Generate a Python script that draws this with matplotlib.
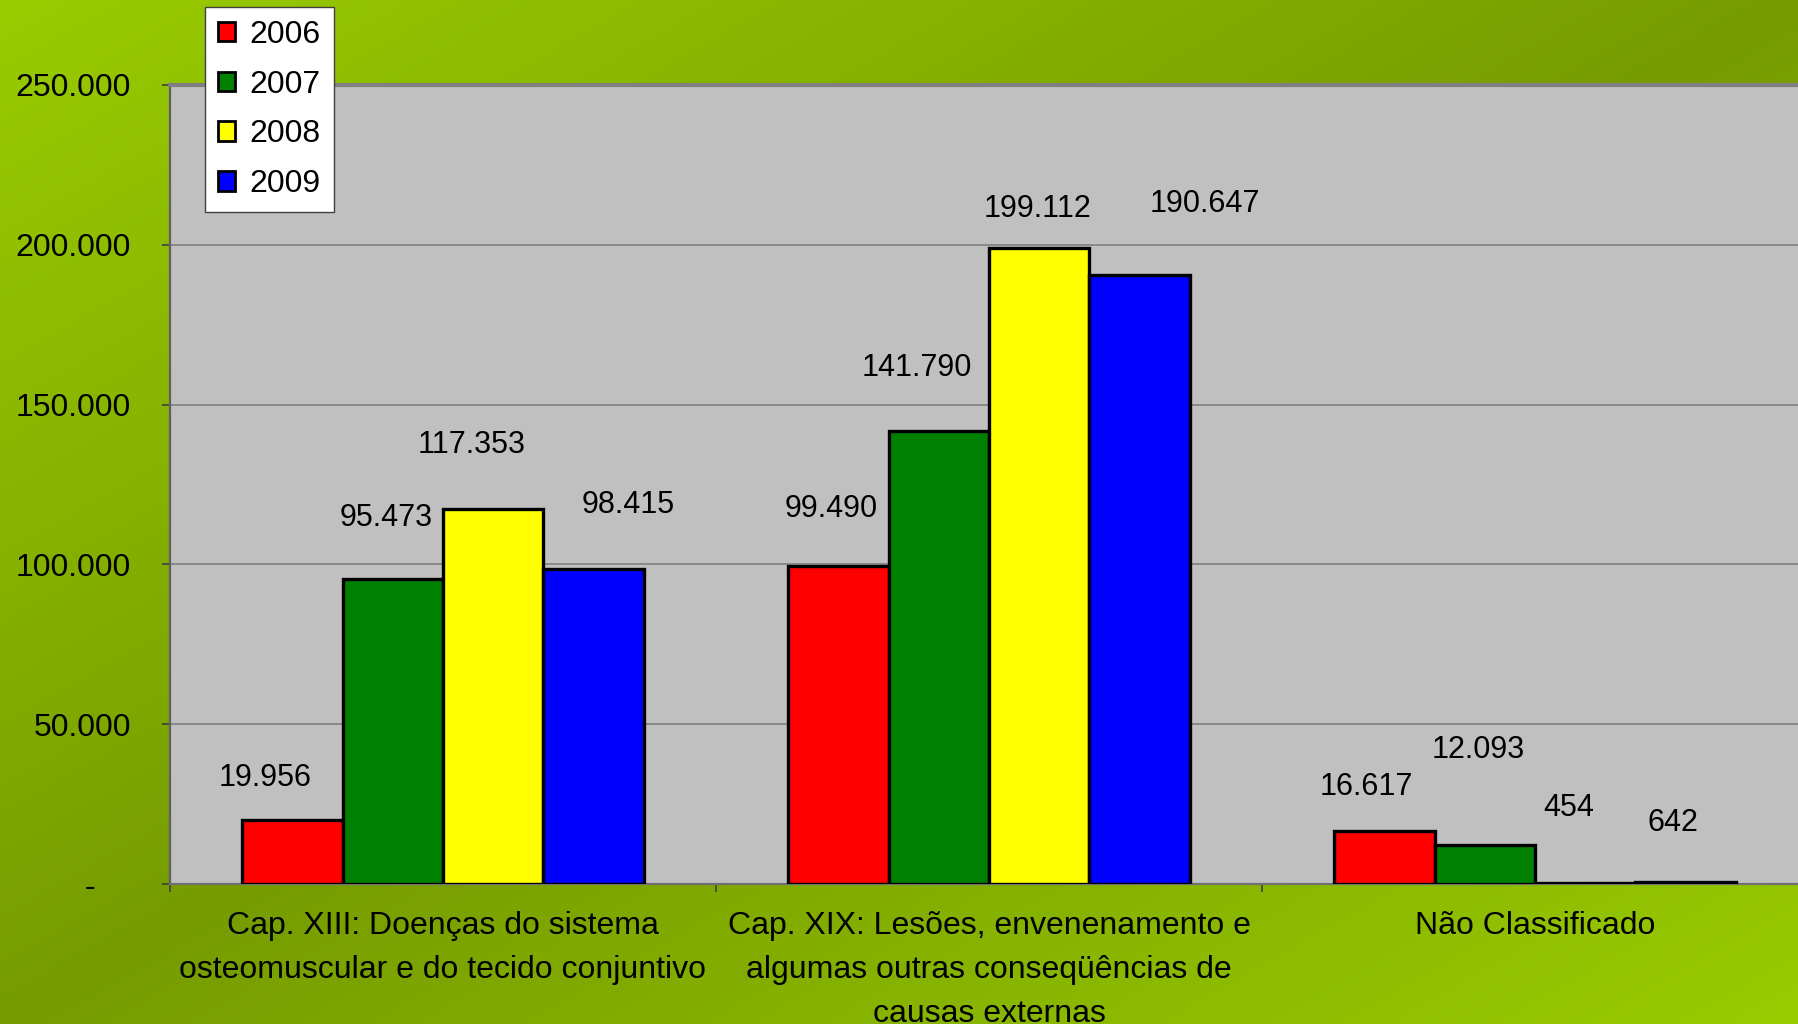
import numpy as np
import matplotlib
matplotlib.use("Agg")
import matplotlib.pyplot as plt
from matplotlib.patches import Patch

# ---------------- data ----------------
categories = [
    "Cap. XIII: Doenças do sistema\nosteomuscular e do tecido conjuntivo",
    "Cap. XIX: Lesões, envenenamento e\nalgumas outras conseqüências de\ncausas externas",
    "Não Classificado",
]
years = ["2006", "2007", "2008", "2009"]
v2006 = [19956, 99490, 16617]
v2007 = [95473, 141790, 12093]
v2008 = [117353, 199112, 454]
v2009 = [98415, 190647, 642]
yticks = [0, 50000, 100000, 150000, 200000, 250000]
ytick_labels = ["-    ", "50.000", "100.000", "150.000", "200.000", "250.000"]

# ---------------- style ----------------
colors = ["#FF0000", "#008000", "#FFFF00", "#0000FF"]
# label nudges (pixels) relative to bar top, per series / category
label_dx = [[-27, -7, -18], [-7, -22, -7], [-22, -2, -17], [34, 65, -13]]
label_dy = [[42, 57, 44], [61, 63, 95], [64, 39, 75], [64, 71, 59]]

plt.rcParams["font.family"] = ["Liberation Sans", "DejaVu Sans"]
FS = 23

W_PX, H_PX = 1799, 1024
fig = plt.figure(figsize=(W_PX / 100, H_PX / 100), dpi=100)

# gradient background
bg = fig.add_axes([0, 0, 1, 1], zorder=-10)
H, W = 256, 450
yy, xx = np.mgrid[0:H, 0:W]
t = (xx / (W - 1) + yy / (H - 1)) / 2
f = np.abs(2 * t - 1)
bright = np.array([0x99, 0xCC, 0x00]) / 255
dark = np.array([0x76, 0x9C, 0x00]) / 255
img = dark + (bright - dark) * f[..., None]
bg.imshow(img, aspect="auto", extent=[0, 1, 0, 1], origin="upper")
bg.axis("off")

left, right, top, bottom = 170, 1808, 85, 884
ax = fig.add_axes([left / W_PX, 1 - bottom / H_PX, (right - left) / W_PX, (bottom - top) / H_PX])
ax.set_facecolor("#C0C0C0")

x = np.arange(len(categories))
width = 0.184
series = [v2006, v2007, v2008, v2009]
for j, (vals, c) in enumerate(zip(series, colors)):
    xs = x + (j - 1.5) * width
    ax.bar(xs, vals, width, color=c, edgecolor="black", linewidth=2.4, zorder=3)
    for i, (xi, v) in enumerate(zip(xs, vals)):
        ax.annotate(f"{v:,}".replace(",", "."), xy=(xi, v),
                    xytext=(label_dx[j][i], label_dy[j][i]), textcoords="offset pixels",
                    ha="center", va="center", fontsize=FS - 1, color="black", zorder=5)

ax.set_xlim(-0.5, 2.5)
ax.set_ylim(0, 250000)
ax.set_yticks(yticks)
ax.set_yticklabels(ytick_labels)
ax.yaxis.grid(True, color="#808080", linewidth=1.2, zorder=0)
ax.set_axisbelow(True)

ax.set_xticks(x)
ax.set_xticklabels(categories, linespacing=1.6)
ax.set_xticks([-0.5, 0.5, 1.5, 2.5], minor=True)
ax.tick_params(axis="x", which="major", length=0, pad=19.5, labelsize=FS)
ax.tick_params(axis="x", which="minor", length=6, width=1.2, color="#404040")
ax.tick_params(axis="y", length=6, width=1.2, color="#404040", pad=22, labelsize=FS)

ax.spines["right"].set_visible(False)
ax.spines["top"].set_color("#808080")
ax.spines["top"].set_linewidth(3)
ax.spines["left"].set_color("#606060")
ax.spines["left"].set_linewidth(1.6)
ax.spines["bottom"].set_color("#707070")
ax.spines["bottom"].set_linewidth(1.6)

handles = [Patch(facecolor=c, edgecolor="black", linewidth=2.0) for c in colors]
leg = fig.legend(handles, years, loc="upper left",
                 bbox_to_anchor=(205 / W_PX, 1 - 7 / H_PX), bbox_transform=fig.transFigure,
                 fontsize=FS, frameon=True, fancybox=False, framealpha=1,
                 edgecolor="#404040", handlelength=0.55, handleheight=0.55,
                 handletextpad=0.45, labelspacing=0.62, borderpad=0.4, borderaxespad=0)
leg.get_frame().set_linewidth(1.0)
leg.set_zorder(20)

fig.savefig("out.png", dpi=100)
